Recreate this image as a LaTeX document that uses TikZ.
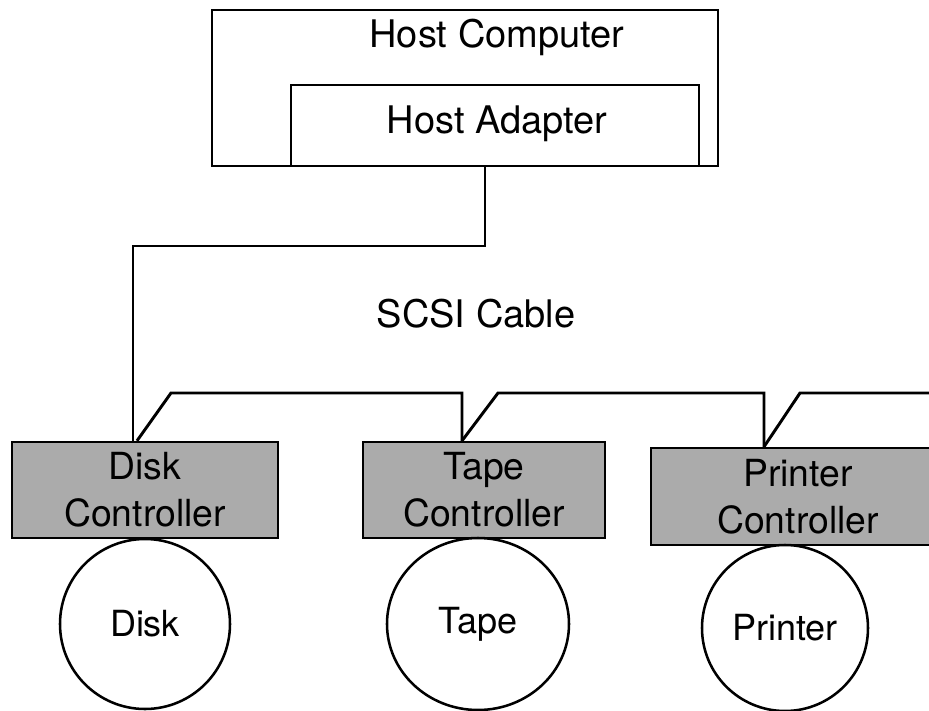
\documentclass[tikz,border=0pt]{standalone}
\usepackage{fontspec}
\setmainfont{TeX Gyre Heros}
\usetikzlibrary{shapes.geometric}
\begin{document}
\begin{tikzpicture}[x=0.75pt,y=-0.75pt,
  frame/.style={draw,line width=1.8pt,rectangle,inner sep=0pt},
  ctrl/.style={frame,fill=black!33,align=center,font=\fontsize{28}{35}\selectfont},
  dev/.style={draw,line width=1.9pt,ellipse,inner sep=0pt,font=\fontsize{27}{30}\selectfont},
  lbl/.style={anchor=base,inner sep=0pt,font=\fontsize{28.5}{32}\selectfont},
  cable/.style={line width=2.2pt,line join=miter}]
\clip (0,0) rectangle (929,711);

% host side
\node[frame,minimum width=379.5pt,minimum height=117pt] (hcomp) at (465,88) {};
\node[frame,minimum width=306pt,minimum height=60.75pt] (hadapt) at (495,125.5) {};
\node[lbl] (hctext) at (497,47) {Host Computer};
\node[lbl] (hatext) at (497,133) {Host Adapter};
\node[lbl] (scsi) at (476,327) {SCSI Cable};

% controllers
\node[ctrl,minimum width=199.5pt,minimum height=72pt] (diskctl) at (145,490) {Disk\\Controller};
\node[ctrl,minimum width=181.5pt,minimum height=72pt] (tapectl) at (484,490) {Tape\\Controller};
\node[ctrl,minimum width=220.5pt,minimum height=72.75pt] (printctl) at (798,496.5) {Printer\\Controller};

% devices
\node[dev,minimum width=127.5pt,minimum height=127.5pt] (disk) at (145,624) {Disk};
\node[dev,minimum width=136.5pt,minimum height=129pt] (tape) at (478,624) {Tape};
\node[dev,minimum width=124.5pt,minimum height=124.5pt] (printer) at (785,628) {Printer};

% cable from the host adapter down to the first controller
\coordinate (b1) at (485,246);
\coordinate (b2) at (133,246);
\draw[cable] (hadapt.south -| b1) -- (b1) -- (b2) -- (b2 |- diskctl.north);

% daisy-chained bus
\coordinate (dj) at (137,0);
\coordinate (d1) at (171,393);
\coordinate (t0) at (462,393);
\coordinate (t1) at (498,393);
\coordinate (p0) at (764,393);
\coordinate (p1) at (800,393);
\coordinate (busend) at (935,393);
\draw[cable] (diskctl.north -| dj) -- (d1) -- (t0) -- (t0 |- tapectl.north);
\draw[cable] (t0 |- tapectl.north) -- (t1) -- (p0) -- (p0 |- printctl.north);
\draw[cable] (p0 |- printctl.north) -- (p1) -- (busend);
\end{tikzpicture}
\end{document}
